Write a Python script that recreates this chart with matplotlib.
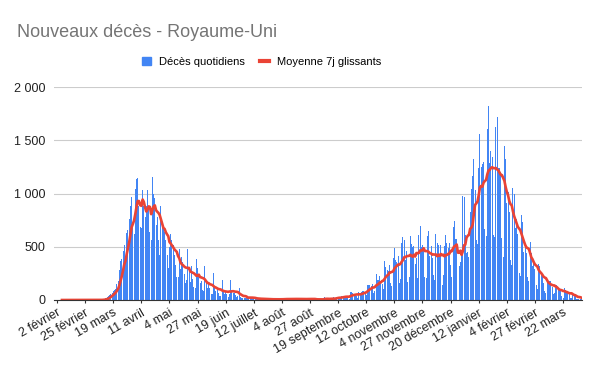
import numpy as np
import pandas as pd
import matplotlib
matplotlib.use("Agg")
import matplotlib.pyplot as plt
from matplotlib.patches import Patch
from matplotlib.lines import Line2D

plt.rcParams["font.family"] = ["Liberation Sans", "DejaVu Sans"]

# Décès quotidiens, du 31 janvier 2020 au 6 avril 2021
jan_2020 = [0]
feb_2020 = [0, 0, 0, 0, 0, 0, 0, 0, 0, 0, 0, 0, 0, 0, 0, 0, 0, 0, 0, 0,
            0, 0, 0, 0, 0, 0, 0, 0, 0]
mar_2020 = [0, 0, 0, 0, 1, 0, 1, 1, 2, 2, 5, 10, 16, 24, 33, 48, 60, 70, 80, 95,
            105, 150, 180, 280, 370, 390, 460, 520, 380, 630, 660]
apr_2020 = [760, 880, 965, 720, 620, 1040, 1140, 1150, 880, 690, 680, 1035, 880, 780, 880,
            1030, 880, 640, 560, 1160, 1000, 960, 708, 780, 560, 420, 880, 720, 680, 640]
may_2020 = [560, 420, 300, 495, 620, 560, 520, 420, 330, 220, 220, 480, 288, 400, 360,
            240, 160, 190, 480, 280, 166, 320, 200, 120, 115, 390, 300, 220, 160, 180, 90]
jun_2020 = [80, 320, 180, 110, 150, 113, 60, 55, 250, 110, 80, 100, 70, 42, 38,
            190, 80, 55, 85, 60, 30, 60, 186, 90, 70, 65, 45, 25, 40, 110]
jul_2020 = [30, 20, 16, 22, 18, 15, 40, 30, 20, 18, 14, 10, 9, 18, 14, 12,
            11, 9, 6, 5, 11, 10, 9, 8, 6, 4, 3, 9, 8, 7, 6]
aug_2020 = [8, 5, 2, 8, 14, 12, 11, 9, 5, 2, 10, 15, 14, 12, 9, 6,
            3, 11, 13, 12, 10, 8, 5, 3, 14, 15, 12, 10, 9, 5, 2]
sep_2020 = [3, 3, 10, 12, 8, 2, 3, 32, 8, 14, 6, 9, 5, 9, 27,
            20, 21, 27, 27, 18, 11, 37, 37, 40, 40, 34, 17, 13, 71, 71]
oct_2020 = [66, 59, 49, 33, 19, 76, 70, 77, 87, 81, 65, 50, 143, 137, 138, 136,
            150, 67, 80, 241, 191, 189, 224, 174, 151, 102, 367, 310, 280, 274, 326]
nov_2020 = [162, 136, 397, 492, 378, 355, 413, 156, 194, 532, 595, 563, 376, 462, 168,
            213, 598, 529, 501, 511, 341, 398, 206, 608, 696, 498, 521, 479, 215, 205]
dec_2020 = [603, 648, 414, 504, 397, 231, 189, 616, 533, 516, 424, 519, 144, 232, 506, 612,
            532, 489, 534, 326, 215, 691, 744, 570, 570, 0, 316, 357, 414, 981, 964]
jan_2021 = [613, 445, 454, 407, 830, 1041, 1162, 1325, 1035, 563, 529, 1243, 1564, 1248, 1280, 1295,
            671, 599, 1610, 1820, 1290, 1401, 1348, 610, 592, 1631, 1725, 1239, 1245, 1200, 587]
feb_2021 = [406, 1449, 1322, 915, 1014, 828, 373, 333, 1052, 1001, 678, 758, 621, 258,
            230, 799, 738, 454, 533, 445, 215, 178, 548, 442, 323, 345, 290, 144]
mar_2021 = [104, 343, 315, 242, 236, 158, 82, 65, 190, 175, 181, 175, 121, 52, 64, 110,
            141, 95, 101, 96, 33, 17, 112, 98, 70, 63, 58, 19, 23, 56, 43]
apr_2021 = [51, 10, 10, 9, 6, 26]

tick_labels = ["2 février", "25 février", "19 mars", "11 avril", "4 mai", "27 mai",
               "19 juin", "12 juillet", "4 août", "27 août", "19 septembre", "12 octobre",
               "4 novembre", "27 novembre", "20 décembre", "12 janvier", "4 février",
               "27 février", "22 mars"]
y_ticks = [0, 500, 1000, 1500, 2000]
y_labels = ["0", "500", "1 000", "1 500", "2 000"]

deaths = (jan_2020 + feb_2020 + mar_2020 + apr_2020 + may_2020 + jun_2020 + jul_2020
          + aug_2020 + sep_2020 + oct_2020 + nov_2020 + dec_2020 + jan_2021 + feb_2021
          + mar_2021 + apr_2021)
dates = pd.date_range("2020-01-31", periods=len(deaths), freq="D")
avg7 = pd.Series(deaths, index=dates).rolling(7).mean()
tick_dates = pd.date_range("2020-02-02", periods=len(tick_labels), freq="23D")

BLUE = "#4285F4"
RED = "#EA4335"

fig = plt.figure(figsize=(6, 3.71), dpi=100)
ax = fig.add_axes([54 / 600, 1 - 300 / 371, 528 / 600, (300 - 87.3) / 371])

ax.bar(dates, deaths, width=0.8, color=BLUE, zorder=2)
ax.plot(avg7.index, avg7.values, color=RED, lw=1.9, zorder=3)

ax.set_ylim(0, 2000)
ax.set_xlim(dates[0] - pd.Timedelta(hours=12), dates[-1] + pd.Timedelta(hours=12))
ax.set_yticks(y_ticks)
ax.set_yticklabels(y_labels, fontsize=9, color="#222222")
ax.set_xticks(tick_dates)
ax.set_xticklabels(tick_labels, fontsize=9, color="#222222", rotation=30,
                   ha="right", rotation_mode="anchor")
ax.tick_params(axis="y", length=0, pad=6)
ax.tick_params(axis="x", length=2, color="#333333", pad=3)
ax.grid(axis="y", color="#cccccc", lw=0.8, zorder=0)
for s in ["top", "right", "left"]:
    ax.spines[s].set_visible(False)
ax.spines["bottom"].set_color("#333333")
ax.spines["bottom"].set_linewidth(0.8)
ax.spines["bottom"].set_zorder(4)

fig.text(17 / 600, 1 - 37.3 / 371, "Nouveaux décès - Royaume-Uni", fontsize=13,
         color="#757575", va="baseline", ha="left")

handles = [Patch(facecolor=BLUE, edgecolor=BLUE),
           Line2D([0], [0], color=RED, lw=3)]
fig.legend(handles, ["Décès quotidiens", "Moyenne 7j glissants"], loc="center",
           bbox_to_anchor=(261.5 / 600, 1 - 61.7 / 371), ncol=2, frameon=False,
           fontsize=8, handlelength=0.8, handleheight=0.8, handletextpad=0.7,
           columnspacing=1.4)

plt.savefig("out.png", dpi=100)
plt.close()
